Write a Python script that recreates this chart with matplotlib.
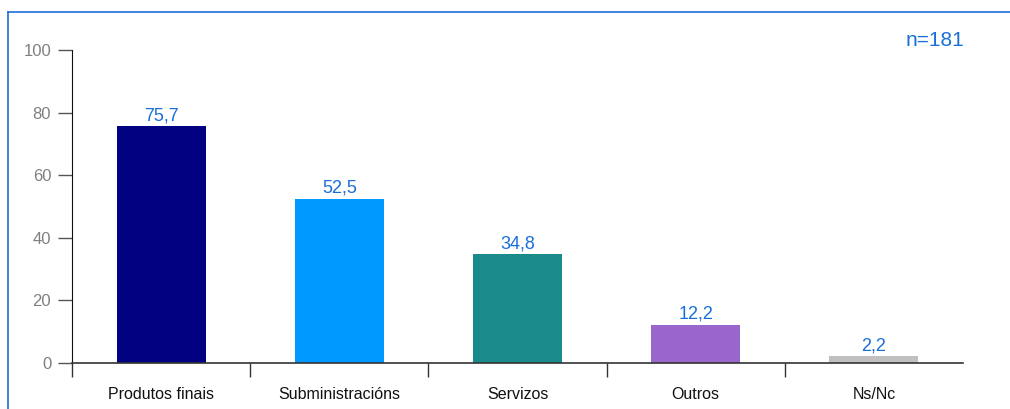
import matplotlib
matplotlib.use("Agg")
import matplotlib.pyplot as plt
from matplotlib.lines import Line2D

plt.rcParams['font.family'] = ['Liberation Sans', 'DejaVu Sans']

categories = ["Produtos finais", "Subministracións", "Servizos", "Outros", "Ns/Nc"]
values = [75.7, 52.5, 34.8, 12.2, 2.2]
labels = ["75,7", "52,5", "34,8", "12,2", "2,2"]
colors = ["#000080", "#0099ff", "#1a8a8a", "#9966cc", "#c0c0c0"]
yticks = [0, 20, 40, 60, 80, 100]

W, H = 1010, 409
fig = plt.figure(figsize=(W / 100, H / 100), dpi=100)
ax = fig.add_axes([72 / W, 1 - 363 / H, (963 - 72) / W, (363 - 50) / H])

x = list(range(len(categories)))
ax.bar(x, values, width=0.5, color=colors, zorder=2)
for xi, v, lab in zip(x, values, labels):
    ax.text(xi, v + 0.6, lab, ha='center', va='bottom', color='#1a6fd6', fontsize=13)

ax.set_xlim(-0.5, len(categories) - 0.5)
ax.set_ylim(0, 100)
ax.set_yticks(yticks)
ax.set_yticklabels([str(t) for t in yticks], color='#808080', fontsize=12)
ax.tick_params(axis='y', length=10, width=1, color='#555555', pad=5, direction='out')

ax.set_xticks(x)
ax.set_xticklabels(categories, fontsize=11.5, color='#111111')
ax.tick_params(axis='x', length=0, pad=17)
# boundary ticks
ax.set_xticks([i - 0.5 for i in range(len(categories))], minor=True)
ax.tick_params(axis='x', which='minor', length=10, width=1, color='#333333', direction='out')

for s in ['top', 'right']:
    ax.spines[s].set_visible(False)
ax.spines['left'].set_color('#111111')
ax.spines['bottom'].set_color('#333333')
ax.spines['bottom'].set_linewidth(1.2)

fig.text(935 / W, 1 - 40 / H, "n=181", ha='center', va='center', color='#1a6fd6', fontsize=15)

# blue frame lines
fig.add_artist(Line2D([8 / W, 1.0], [1 - 12 / H, 1 - 12 / H], transform=fig.transFigure, color='#1a6fd6', lw=1.2))
fig.add_artist(Line2D([8 / W, 8 / W], [0, 1 - 12 / H], transform=fig.transFigure, color='#1a6fd6', lw=1.2))

fig.savefig("out.png", dpi=100)
